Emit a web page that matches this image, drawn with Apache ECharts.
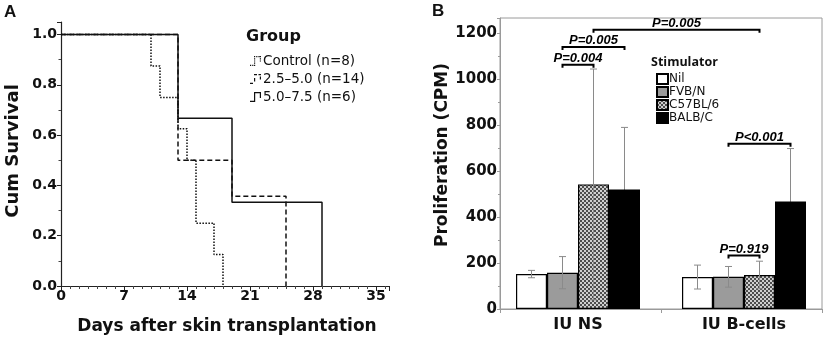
<!DOCTYPE html>
<html>
<head>
<meta charset="utf-8">
<script src="https://cdn.jsdelivr.net/npm/echarts@6/dist/echarts.min.js"></script>
<style>
  html, body { margin: 0; padding: 0; background: #fff; }
  #chart { width: 827px; height: 340px; }
</style>
</head>
<body>
<div id="chart"></div>
<script>
// ---- panel A: survival after skin transplantation ----
var groupNames = ["Control (n=8)", "2.5–5.0 (n=14)", "5.0–7.5 (n=6)"];
var controlDays = [0, 10, 11, 13, 14, 15, 17, 18];
var controlSurv = [1, 0.875, 0.75, 0.625, 0.5, 0.25, 0.125, 0];
var midDays = [0, 13, 19, 25];
var midSurv = [1, 0.5, 0.357, 0];
var highDays = [0, 13, 19, 29];
var highSurv = [1, 0.667, 0.333, 0];

// ---- panel B: proliferation ----
var cellTypes = ["IU NS", "IU B-cells"];
var stimulators = ["Nil", "FVB/N", "C57BL/6", "BALB/C"];
var nilMean = [152, 139];
var nilErr = [16, 52];
var fvbMean = [158, 140];
var fvbErr = [70, 45];
var c57Mean = [542, 148];
var c57Err = [502, 60];
var balbMean = [520, 468];
var balbErr = [270, 230];

// significance brackets: [fromCell, fromBar, toCell, toBar, height]
var pLabels = ["P=0.004", "P=0.005", "P=0.005", "P<0.001", "P=0.919"];
var pBrackets = [
  [0, 1, 0, 2, 1063],
  [0, 1, 0, 3, 1140],
  [0, 2, 1, 2, 1215],
  [1, 1, 1, 3, 719],
  [1, 1, 1, 2, 233]
];

var BAR_W = 31;
var FONT = '"DejaVu Sans", sans-serif';

// little step glyphs for the group legend (dotted / dashed / solid)
var ICON_DOTTED = "path://" + [[0, 8.8], [2.2, 8.8], [4, 8.8], [4, 6.6], [4, 4.4], [4, 2.2], [4, 0],
  [6.2, 0], [8.4, 0], [9.8, 0], [9.8, 2.2], [9.8, 4.4]].map(function (p) {
  return "M" + p[0] + "," + p[1] + " h1.2 v1.2 h-1.2 Z";
}).join(" ");
var ICON_DASHED = "path://M0,8.8 h3 v1.2 h-3 Z M4,4 h1.2 v3.5 h-1.2 Z M4,0 h3 v1.2 h-3 Z " +
  "M8.5,0 h2.5 v1.2 h-2.5 Z M9.8,2.6 h1.2 v3 h-1.2 Z";
var ICON_SOLID = "path://M0,8.8 L4,8.8 L4,0 L11,0 L11,6 L9.8,6 L9.8,1.2 L5.2,1.2 L5.2,10 L0,10 Z";
var groupIcons = [ICON_DOTTED, ICON_DASHED, ICON_SOLID];

function zip(xs, ys) {
  return xs.map(function (x, i) { return [x, ys[i]]; });
}

// checkered fill for C57BL/6
var pat = document.createElement("canvas");
pat.width = 4;
pat.height = 4;
var pctx = pat.getContext("2d");
pctx.fillStyle = "#cfcfcf";
pctx.fillRect(0, 0, 4, 4);
pctx.fillStyle = "#4d4d4d";
pctx.fillRect(0, 0, 2, 2);
pctx.fillRect(2, 2, 2, 2);

function kmSeries(name, days, surv, type) {
  return {
    name: name,
    type: "line",
    xAxisIndex: 0,
    yAxisIndex: 0,
    step: "end",
    symbol: "none",
    silent: true,
    data: zip(days, surv),
    itemStyle: { color: "#111" },
    lineStyle: { color: "#111", width: 1.5, type: type }
  };
}

function barSeries(name, means, fill) {
  return {
    name: name,
    type: "bar",
    xAxisIndex: 1,
    yAxisIndex: 1,
    barWidth: BAR_W,
    barGap: "0%",
    z: 2,
    silent: true,
    data: means,
    itemStyle: { color: fill, borderColor: "#000", borderWidth: 1.2 }
  };
}

function errSeries(slot, means, errs, z) {
  return {
    type: "custom",
    xAxisIndex: 1,
    yAxisIndex: 1,
    z: z,
    silent: true,
    data: means.map(function (m, i) { return [i, m - errs[i], m + errs[i]]; }),
    renderItem: function (params, api) {
      var lo = api.coord([api.value(0), api.value(1)]);
      var hi = api.coord([api.value(0), api.value(2)]);
      var x = lo[0] + (slot - 1.5) * BAR_W;
      var st = { stroke: "#8a8a8a", lineWidth: 1 };
      return {
        type: "group",
        children: [
          { type: "line", shape: { x1: x, y1: hi[1], x2: x, y2: lo[1] }, style: st },
          { type: "line", shape: { x1: x - 3.5, y1: hi[1], x2: x + 3.5, y2: hi[1] }, style: st },
          { type: "line", shape: { x1: x - 3.5, y1: lo[1], x2: x + 3.5, y2: lo[1] }, style: st }
        ]
      };
    }
  };
}

var chart = echarts.init(document.getElementById("chart"));

chart.setOption({
  animation: false,
  backgroundColor: "#fff",
  textStyle: { fontFamily: FONT },
  grid: [
    { left: 61, right: 437.5, top: 22, bottom: 54, outerBoundsMode: "none" },
    { left: 495, right: 0, top: 18, bottom: 31, outerBoundsMode: "none" },
    { left: 500, right: 5, top: 18, bottom: 31, show: true, borderColor: "#9a9a9a", borderWidth: 1, outerBoundsMode: "none" }
  ],
  xAxis: [
    {
      type: "value", gridIndex: 0, min: 0, max: 36.5, interval: 7,
      splitLine: { show: false },
      axisLine: { show: true, lineStyle: { color: "#222", width: 1.2 } },
      axisTick: { show: true, length: 5, lineStyle: { color: "#222" } },
      minorTick: { show: true, splitNumber: 7, length: 3, lineStyle: { color: "#444" } },
      axisLabel: { showMaxLabel: false, margin: 3, color: "#111", fontWeight: "bold", fontSize: 14, fontFamily: FONT }
    },
    {
      type: "category", gridIndex: 1, data: cellTypes,
      axisLine: { show: false },
      axisTick: { show: false },
      axisLabel: { margin: 8, color: "#111", fontWeight: "bold", fontSize: 16, fontFamily: FONT }
    },
    {
      type: "category", gridIndex: 2, data: cellTypes,
      axisLine: { show: true, lineStyle: { color: "#9a9a9a" } },
      axisTick: { show: true, length: 4, lineStyle: { color: "#9a9a9a" } },
      axisLabel: { show: false }
    }
  ],
  yAxis: [
    {
      type: "value", gridIndex: 0, min: 0, max: 1.05, interval: 0.2,
      splitLine: { show: false },
      axisLine: { show: true, lineStyle: { color: "#222", width: 1.2 } },
      axisTick: { show: true, length: 4, lineStyle: { color: "#222" } },
      minorTick: { show: true, splitNumber: 2, length: 2.5, lineStyle: { color: "#444" } },
      axisLabel: {
        showMaxLabel: false, margin: 4, color: "#111", fontWeight: "bold", fontSize: 14, fontFamily: FONT,
        formatter: function (v) { return v.toFixed(1); }
      }
    },
    { type: "value", gridIndex: 1, min: 0, max: 1266, show: false },
    {
      type: "value", gridIndex: 2, min: 0, max: 1266, interval: 200,
      splitLine: { show: false },
      axisLine: { show: true, lineStyle: { color: "#9a9a9a" } },
      axisTick: { show: true, length: 3, lineStyle: { color: "#9a9a9a" } },
      minorTick: { show: true, splitNumber: 2, length: 2, lineStyle: { color: "#9a9a9a" } },
      axisLabel: {
        showMaxLabel: false, margin: 3, color: "#111", fontWeight: "bold", fontSize: 15, fontFamily: FONT,
        formatter: function (v) { return String(v); }
      }
    }
  ],
  legend: [
    {
      data: groupNames.map(function (n, i) { return { name: n, icon: groupIcons[i] }; }),
      orient: "vertical",
      left: 250, top: 54,
      padding: 0,
      itemWidth: 11, itemHeight: 10, itemGap: 4,
      selectedMode: false,
      itemStyle: { color: "#111", borderWidth: 0 },
      textStyle: { fontSize: 13.5, color: "#111", fontFamily: FONT, lineHeight: 14, padding: [0, 0, 0, -3] }
    },
    {
      data: stimulators,
      orient: "vertical",
      left: 656, top: 73,
      padding: 0,
      icon: "rect",
      itemWidth: 11, itemHeight: 10, itemGap: 1,
      selectedMode: false,
      textStyle: { fontSize: 12, color: "#111", fontFamily: FONT, lineHeight: 11, padding: [0, 0, 0, -4] }
    }
  ],
  graphic: [
    { type: "text", x: 4, y: 4, style: { text: "A", font: 'bold 17px "Liberation Sans"', fill: "#111" } },
    { type: "text", x: 432, y: 3, style: { text: "B", font: 'bold 17px "Liberation Sans"', fill: "#111" } },
    { type: "text", x: 246, y: 37, style: { text: "Group", font: "bold 16px " + FONT, fill: "#111", verticalAlign: "middle" } },
    { type: "text", x: 651, y: 62, style: { text: "Stimulator", font: 'bold 12.5px "Open Sans"', fill: "#111", verticalAlign: "middle" } },
    { type: "text", x: 13, y: 151, rotation: Math.PI / 2, style: { text: "Cum Survival", font: "bold 18px " + FONT, fill: "#111", align: "center", verticalAlign: "middle" } },
    { type: "text", x: 227, y: 327, style: { text: "Days after skin transplantation", font: "bold 17px " + FONT, fill: "#111", align: "center", verticalAlign: "middle" } },
    { type: "text", x: 443, y: 155, rotation: Math.PI / 2, style: { text: "Proliferation (CPM)", font: "bold 17px " + FONT, fill: "#111", align: "center", verticalAlign: "middle" } }
  ],
  series: [
    kmSeries(groupNames[0], controlDays, controlSurv, [1.5, 1.5]),
    kmSeries(groupNames[1], midDays, midSurv, [5, 3]),
    kmSeries(groupNames[2], highDays, highSurv, "solid"),
    barSeries(stimulators[0], nilMean, "#fff"),
    barSeries(stimulators[1], fvbMean, "#9b9b9b"),
    barSeries(stimulators[2], c57Mean, { image: pat, repeat: "repeat" }),
    barSeries(stimulators[3], balbMean, "#000"),
    errSeries(0, nilMean, nilErr, 3),
    errSeries(1, fvbMean, fvbErr, 3),
    errSeries(2, c57Mean, c57Err, 3),
    errSeries(3, balbMean, balbErr, 1),
    {
      type: "custom",
      xAxisIndex: 1,
      yAxisIndex: 1,
      z: 4,
      silent: true,
      data: pBrackets.map(function (b) { return [b[0], b[4]]; }),
      renderItem: function (params, api) {
        var b = pBrackets[params.dataIndex];
        var p1 = api.coord([b[0], b[4]]);
        var p2 = api.coord([b[2], b[4]]);
        var x1 = p1[0] + (b[1] - 1.5) * BAR_W;
        var x2 = p2[0] + (b[3] - 1.5) * BAR_W;
        var y = p1[1];
        return {
          type: "group",
          children: [
            { type: "polyline", shape: { points: [[x1, y + 3], [x1, y], [x2, y], [x2, y + 3]] }, style: { stroke: "#000", lineWidth: 2, fill: null } },
            { type: "text", x: (x1 + x2) / 2, y: y, style: { text: pLabels[params.dataIndex], font: 'italic bold 13px "Liberation Sans"', fill: "#000", align: "center", verticalAlign: "bottom" } }
          ]
        };
      }
    }
  ]
});
</script>
</body>
</html>
